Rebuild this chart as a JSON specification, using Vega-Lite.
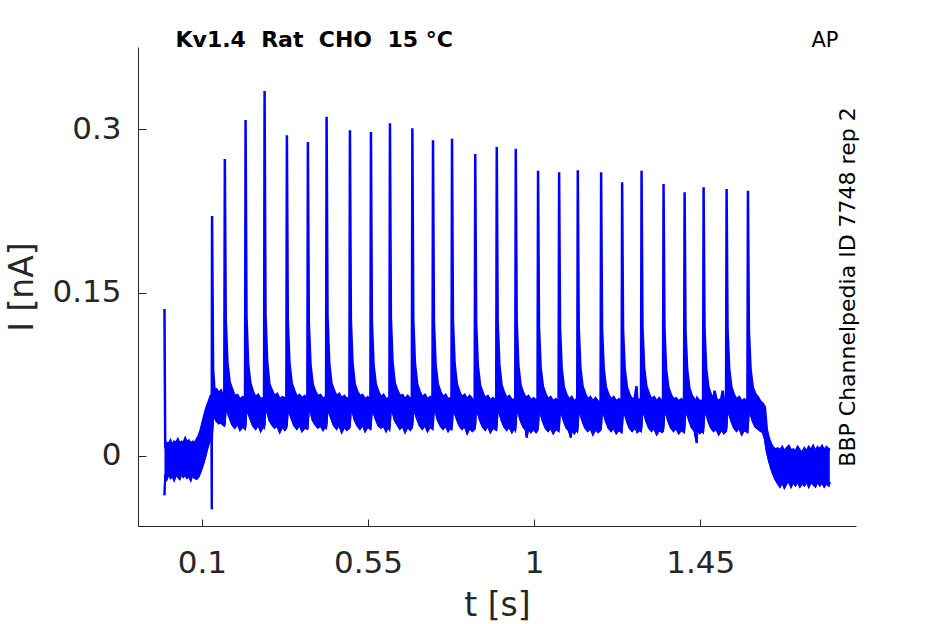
{
  "$schema": "https://vega.github.io/schema/vega-lite/v6.json",
  "width": 718,
  "height": 479,
  "autosize": {"type": "none"},
  "padding": {"left": 138, "top": 47, "right": 89, "bottom": 98},
  "background": "white",
  "config": {
    "view": {"stroke": null},
    "font": "DejaVu Sans",
    "axis": {"grid": false, "labelFont": "DejaVu Sans", "titleFont": "DejaVu Sans"}
  },
  "datasets": {
    "trace": [
      {"t": -0.0012, "lo": -0.036, "hi": 0.135},
      {"t": 0.0008, "lo": -0.017, "hi": 0.010},
      {"t": 0.0050, "lo": -0.021, "hi": 0.012},
      {"t": 0.0100, "lo": -0.016, "hi": 0.011},
      {"t": 0.0150, "lo": -0.020, "hi": 0.014},
      {"t": 0.0200, "lo": -0.018, "hi": 0.009},
      {"t": 0.0250, "lo": -0.022, "hi": 0.013},
      {"t": 0.0300, "lo": -0.017, "hi": 0.012},
      {"t": 0.0350, "lo": -0.019, "hi": 0.015},
      {"t": 0.0400, "lo": -0.021, "hi": 0.011},
      {"t": 0.0450, "lo": -0.016, "hi": 0.013},
      {"t": 0.0500, "lo": -0.019, "hi": 0.012},
      {"t": 0.0550, "lo": -0.017, "hi": 0.016},
      {"t": 0.0600, "lo": -0.020, "hi": 0.012},
      {"t": 0.0650, "lo": -0.018, "hi": 0.014},
      {"t": 0.0700, "lo": -0.022, "hi": 0.011},
      {"t": 0.0750, "lo": -0.017, "hi": 0.013},
      {"t": 0.0800, "lo": -0.020, "hi": 0.012},
      {"t": 0.0860, "lo": -0.021, "hi": 0.015},
      {"t": 0.0910, "lo": -0.019, "hi": 0.018},
      {"t": 0.0970, "lo": -0.014, "hi": 0.024},
      {"t": 0.1030, "lo": -0.008, "hi": 0.032},
      {"t": 0.1090, "lo": -0.001, "hi": 0.040},
      {"t": 0.1140, "lo": 0.006, "hi": 0.046},
      {"t": 0.1190, "lo": 0.012, "hi": 0.050},
      {"t": 0.1235, "lo": 0.018, "hi": 0.055},
      {"t": 0.1262, "lo": 0.022, "hi": 0.056},
      {"t": 0.1270, "lo": -0.049, "hi": 0.057},
      {"t": 0.1277, "lo": 0.020, "hi": 0.2204},
      {"t": 0.1305, "lo": 0.034, "hi": 0.080},
      {"t": 0.1340, "lo": 0.036, "hi": 0.062},
      {"t": 0.1400, "lo": 0.032, "hi": 0.061},
      {"t": 0.1460, "lo": 0.030, "hi": 0.058},
      {"t": 0.1520, "lo": 0.031, "hi": 0.060},
      {"t": 0.1570, "lo": 0.029, "hi": 0.055},
      {"t": 0.1608, "lo": 0.028, "hi": 0.053},
      {"t": 0.1623, "lo": 0.030, "hi": 0.2727},
      {"t": 0.1648, "lo": 0.045, "hi": 0.125},
      {"t": 0.1693, "lo": 0.041, "hi": 0.086},
      {"t": 0.1753, "lo": 0.035, "hi": 0.068},
      {"t": 0.1823, "lo": 0.029, "hi": 0.061},
      {"t": 0.1893, "lo": 0.026, "hi": 0.055},
      {"t": 0.1963, "lo": 0.030, "hi": 0.056},
      {"t": 0.2033, "lo": 0.024, "hi": 0.052},
      {"t": 0.2103, "lo": 0.027, "hi": 0.054},
      {"t": 0.2170, "lo": 0.025, "hi": 0.051},
      {"t": 0.2185, "lo": 0.029, "hi": 0.3085},
      {"t": 0.2210, "lo": 0.044, "hi": 0.128},
      {"t": 0.2255, "lo": 0.040, "hi": 0.084},
      {"t": 0.2315, "lo": 0.034, "hi": 0.067},
      {"t": 0.2385, "lo": 0.028, "hi": 0.059},
      {"t": 0.2455, "lo": 0.025, "hi": 0.054},
      {"t": 0.2525, "lo": 0.029, "hi": 0.056},
      {"t": 0.2595, "lo": 0.023, "hi": 0.052},
      {"t": 0.2655, "lo": 0.027, "hi": 0.053},
      {"t": 0.2685, "lo": 0.026, "hi": 0.051},
      {"t": 0.2700, "lo": 0.030, "hi": 0.3352},
      {"t": 0.2725, "lo": 0.045, "hi": 0.130},
      {"t": 0.2770, "lo": 0.041, "hi": 0.087},
      {"t": 0.2830, "lo": 0.033, "hi": 0.066},
      {"t": 0.2900, "lo": 0.029, "hi": 0.060},
      {"t": 0.2970, "lo": 0.026, "hi": 0.055},
      {"t": 0.3040, "lo": 0.028, "hi": 0.057},
      {"t": 0.3110, "lo": 0.022, "hi": 0.052},
      {"t": 0.3180, "lo": 0.027, "hi": 0.054},
      {"t": 0.3250, "lo": 0.024, "hi": 0.053},
      {"t": 0.3289, "lo": 0.026, "hi": 0.050},
      {"t": 0.3304, "lo": 0.029, "hi": 0.2945},
      {"t": 0.3329, "lo": 0.044, "hi": 0.124},
      {"t": 0.3374, "lo": 0.040, "hi": 0.085},
      {"t": 0.3434, "lo": 0.034, "hi": 0.067},
      {"t": 0.3504, "lo": 0.028, "hi": 0.060},
      {"t": 0.3574, "lo": 0.025, "hi": 0.054},
      {"t": 0.3644, "lo": 0.029, "hi": 0.056},
      {"t": 0.3714, "lo": 0.023, "hi": 0.053},
      {"t": 0.3784, "lo": 0.026, "hi": 0.055},
      {"t": 0.3858, "lo": 0.025, "hi": 0.051},
      {"t": 0.3873, "lo": 0.030, "hi": 0.2883},
      {"t": 0.3898, "lo": 0.045, "hi": 0.122},
      {"t": 0.3943, "lo": 0.041, "hi": 0.084},
      {"t": 0.4003, "lo": 0.033, "hi": 0.066},
      {"t": 0.4073, "lo": 0.029, "hi": 0.059},
      {"t": 0.4143, "lo": 0.026, "hi": 0.055},
      {"t": 0.4213, "lo": 0.028, "hi": 0.056},
      {"t": 0.4283, "lo": 0.024, "hi": 0.052},
      {"t": 0.4340, "lo": 0.027, "hi": 0.054},
      {"t": 0.4365, "lo": 0.026, "hi": 0.051},
      {"t": 0.4380, "lo": 0.030, "hi": 0.3116},
      {"t": 0.4405, "lo": 0.044, "hi": 0.128},
      {"t": 0.4450, "lo": 0.040, "hi": 0.086},
      {"t": 0.4510, "lo": 0.034, "hi": 0.067},
      {"t": 0.4580, "lo": 0.028, "hi": 0.060},
      {"t": 0.4650, "lo": 0.025, "hi": 0.055},
      {"t": 0.4720, "lo": 0.029, "hi": 0.057},
      {"t": 0.4790, "lo": 0.022, "hi": 0.053},
      {"t": 0.4860, "lo": 0.027, "hi": 0.055},
      {"t": 0.4930, "lo": 0.024, "hi": 0.052},
      {"t": 0.4997, "lo": 0.026, "hi": 0.054},
      {"t": 0.5012, "lo": 0.029, "hi": 0.2991},
      {"t": 0.5037, "lo": 0.045, "hi": 0.125},
      {"t": 0.5082, "lo": 0.041, "hi": 0.085},
      {"t": 0.5142, "lo": 0.033, "hi": 0.066},
      {"t": 0.5212, "lo": 0.028, "hi": 0.059},
      {"t": 0.5282, "lo": 0.025, "hi": 0.055},
      {"t": 0.5352, "lo": 0.029, "hi": 0.056},
      {"t": 0.5422, "lo": 0.023, "hi": 0.052},
      {"t": 0.5492, "lo": 0.027, "hi": 0.054},
      {"t": 0.5566, "lo": 0.025, "hi": 0.051},
      {"t": 0.5581, "lo": 0.030, "hi": 0.2975},
      {"t": 0.5606, "lo": 0.044, "hi": 0.124},
      {"t": 0.5651, "lo": 0.040, "hi": 0.084},
      {"t": 0.5711, "lo": 0.034, "hi": 0.066},
      {"t": 0.5781, "lo": 0.028, "hi": 0.059},
      {"t": 0.5851, "lo": 0.026, "hi": 0.054},
      {"t": 0.5921, "lo": 0.028, "hi": 0.056},
      {"t": 0.5991, "lo": 0.023, "hi": 0.052},
      {"t": 0.6051, "lo": 0.027, "hi": 0.053},
      {"t": 0.6081, "lo": 0.025, "hi": 0.051},
      {"t": 0.6096, "lo": 0.030, "hi": 0.3055},
      {"t": 0.6121, "lo": 0.045, "hi": 0.127},
      {"t": 0.6166, "lo": 0.041, "hi": 0.086},
      {"t": 0.6226, "lo": 0.033, "hi": 0.067},
      {"t": 0.6296, "lo": 0.029, "hi": 0.060},
      {"t": 0.6366, "lo": 0.025, "hi": 0.055},
      {"t": 0.6436, "lo": 0.028, "hi": 0.056},
      {"t": 0.6506, "lo": 0.022, "hi": 0.052},
      {"t": 0.6576, "lo": 0.027, "hi": 0.055},
      {"t": 0.6646, "lo": 0.024, "hi": 0.052},
      {"t": 0.6688, "lo": 0.026, "hi": 0.050},
      {"t": 0.6703, "lo": 0.029, "hi": 0.3009},
      {"t": 0.6728, "lo": 0.044, "hi": 0.125},
      {"t": 0.6773, "lo": 0.040, "hi": 0.085},
      {"t": 0.6833, "lo": 0.034, "hi": 0.066},
      {"t": 0.6903, "lo": 0.028, "hi": 0.059},
      {"t": 0.6973, "lo": 0.025, "hi": 0.054},
      {"t": 0.7043, "lo": 0.029, "hi": 0.056},
      {"t": 0.7113, "lo": 0.023, "hi": 0.052},
      {"t": 0.7183, "lo": 0.027, "hi": 0.054},
      {"t": 0.7247, "lo": 0.025, "hi": 0.051},
      {"t": 0.7262, "lo": 0.030, "hi": 0.2899},
      {"t": 0.7287, "lo": 0.045, "hi": 0.123},
      {"t": 0.7332, "lo": 0.041, "hi": 0.084},
      {"t": 0.7392, "lo": 0.033, "hi": 0.066},
      {"t": 0.7462, "lo": 0.028, "hi": 0.059},
      {"t": 0.7532, "lo": 0.025, "hi": 0.054},
      {"t": 0.7602, "lo": 0.028, "hi": 0.056},
      {"t": 0.7672, "lo": 0.023, "hi": 0.052},
      {"t": 0.7732, "lo": 0.026, "hi": 0.053},
      {"t": 0.7762, "lo": 0.025, "hi": 0.051},
      {"t": 0.7777, "lo": 0.029, "hi": 0.2914},
      {"t": 0.7802, "lo": 0.044, "hi": 0.124},
      {"t": 0.7847, "lo": 0.040, "hi": 0.085},
      {"t": 0.7907, "lo": 0.034, "hi": 0.066},
      {"t": 0.7977, "lo": 0.028, "hi": 0.059},
      {"t": 0.8047, "lo": 0.025, "hi": 0.054},
      {"t": 0.8117, "lo": 0.028, "hi": 0.056},
      {"t": 0.8187, "lo": 0.021, "hi": 0.052},
      {"t": 0.8257, "lo": 0.026, "hi": 0.055},
      {"t": 0.8327, "lo": 0.023, "hi": 0.052},
      {"t": 0.8391, "lo": 0.025, "hi": 0.050},
      {"t": 0.8406, "lo": 0.029, "hi": 0.2773},
      {"t": 0.8431, "lo": 0.044, "hi": 0.122},
      {"t": 0.8476, "lo": 0.040, "hi": 0.083},
      {"t": 0.8536, "lo": 0.033, "hi": 0.065},
      {"t": 0.8606, "lo": 0.027, "hi": 0.058},
      {"t": 0.8676, "lo": 0.024, "hi": 0.053},
      {"t": 0.8746, "lo": 0.028, "hi": 0.055},
      {"t": 0.8816, "lo": 0.022, "hi": 0.051},
      {"t": 0.8886, "lo": 0.026, "hi": 0.053},
      {"t": 0.8974, "lo": 0.024, "hi": 0.050},
      {"t": 0.8989, "lo": 0.029, "hi": 0.2837},
      {"t": 0.9014, "lo": 0.044, "hi": 0.123},
      {"t": 0.9059, "lo": 0.040, "hi": 0.084},
      {"t": 0.9119, "lo": 0.033, "hi": 0.065},
      {"t": 0.9189, "lo": 0.027, "hi": 0.058},
      {"t": 0.9259, "lo": 0.024, "hi": 0.053},
      {"t": 0.9329, "lo": 0.027, "hi": 0.055},
      {"t": 0.9399, "lo": 0.022, "hi": 0.051},
      {"t": 0.9459, "lo": 0.026, "hi": 0.052},
      {"t": 0.9489, "lo": 0.024, "hi": 0.050},
      {"t": 0.9504, "lo": 0.029, "hi": 0.2822},
      {"t": 0.9529, "lo": 0.044, "hi": 0.123},
      {"t": 0.9574, "lo": 0.040, "hi": 0.083},
      {"t": 0.9634, "lo": 0.033, "hi": 0.065},
      {"t": 0.9704, "lo": 0.027, "hi": 0.058},
      {"t": 0.9774, "lo": 0.024, "hi": 0.053},
      {"t": 0.9800, "lo": 0.017, "hi": 0.054},
      {"t": 0.9844, "lo": 0.026, "hi": 0.055},
      {"t": 0.9914, "lo": 0.022, "hi": 0.051},
      {"t": 0.9984, "lo": 0.025, "hi": 0.053},
      {"t": 1.0054, "lo": 0.022, "hi": 0.051},
      {"t": 1.0093, "lo": 0.024, "hi": 0.049},
      {"t": 1.0108, "lo": 0.028, "hi": 0.2620},
      {"t": 1.0133, "lo": 0.043, "hi": 0.118},
      {"t": 1.0178, "lo": 0.039, "hi": 0.081},
      {"t": 1.0238, "lo": 0.032, "hi": 0.064},
      {"t": 1.0308, "lo": 0.026, "hi": 0.057},
      {"t": 1.0378, "lo": 0.023, "hi": 0.052},
      {"t": 1.0448, "lo": 0.026, "hi": 0.054},
      {"t": 1.0518, "lo": 0.021, "hi": 0.050},
      {"t": 1.0588, "lo": 0.025, "hi": 0.052},
      {"t": 1.0663, "lo": 0.023, "hi": 0.049},
      {"t": 1.0678, "lo": 0.028, "hi": 0.2605},
      {"t": 1.0703, "lo": 0.043, "hi": 0.118},
      {"t": 1.0748, "lo": 0.039, "hi": 0.080},
      {"t": 1.0808, "lo": 0.032, "hi": 0.063},
      {"t": 1.0878, "lo": 0.026, "hi": 0.056},
      {"t": 1.0948, "lo": 0.023, "hi": 0.052},
      {"t": 1.0995, "lo": 0.017, "hi": 0.053},
      {"t": 1.1018, "lo": 0.025, "hi": 0.054},
      {"t": 1.1088, "lo": 0.021, "hi": 0.050},
      {"t": 1.1145, "lo": 0.024, "hi": 0.052},
      {"t": 1.1169, "lo": 0.023, "hi": 0.049},
      {"t": 1.1184, "lo": 0.028, "hi": 0.2623},
      {"t": 1.1209, "lo": 0.043, "hi": 0.118},
      {"t": 1.1254, "lo": 0.039, "hi": 0.081},
      {"t": 1.1314, "lo": 0.032, "hi": 0.064},
      {"t": 1.1384, "lo": 0.026, "hi": 0.057},
      {"t": 1.1454, "lo": 0.023, "hi": 0.052},
      {"t": 1.1524, "lo": 0.026, "hi": 0.054},
      {"t": 1.1594, "lo": 0.020, "hi": 0.050},
      {"t": 1.1664, "lo": 0.025, "hi": 0.053},
      {"t": 1.1734, "lo": 0.022, "hi": 0.050},
      {"t": 1.1801, "lo": 0.024, "hi": 0.049},
      {"t": 1.1816, "lo": 0.028, "hi": 0.2605},
      {"t": 1.1841, "lo": 0.043, "hi": 0.117},
      {"t": 1.1886, "lo": 0.039, "hi": 0.080},
      {"t": 1.1946, "lo": 0.032, "hi": 0.063},
      {"t": 1.2016, "lo": 0.026, "hi": 0.056},
      {"t": 1.2086, "lo": 0.023, "hi": 0.052},
      {"t": 1.2156, "lo": 0.026, "hi": 0.054},
      {"t": 1.2226, "lo": 0.021, "hi": 0.050},
      {"t": 1.2296, "lo": 0.024, "hi": 0.052},
      {"t": 1.2370, "lo": 0.022, "hi": 0.049},
      {"t": 1.2385, "lo": 0.028, "hi": 0.2513},
      {"t": 1.2410, "lo": 0.043, "hi": 0.116},
      {"t": 1.2455, "lo": 0.039, "hi": 0.080},
      {"t": 1.2515, "lo": 0.032, "hi": 0.063},
      {"t": 1.2585, "lo": 0.026, "hi": 0.056},
      {"t": 1.2655, "lo": 0.023, "hi": 0.052},
      {"t": 1.2725, "lo": 0.026, "hi": 0.053},
      {"t": 1.2775, "lo": 0.024, "hi": 0.064},
      {"t": 1.2795, "lo": 0.022, "hi": 0.051},
      {"t": 1.2865, "lo": 0.024, "hi": 0.052},
      {"t": 1.2896, "lo": 0.023, "hi": 0.049},
      {"t": 1.2911, "lo": 0.028, "hi": 0.2620},
      {"t": 1.2936, "lo": 0.043, "hi": 0.118},
      {"t": 1.2981, "lo": 0.039, "hi": 0.081},
      {"t": 1.3041, "lo": 0.032, "hi": 0.064},
      {"t": 1.3111, "lo": 0.026, "hi": 0.057},
      {"t": 1.3181, "lo": 0.023, "hi": 0.052},
      {"t": 1.3251, "lo": 0.026, "hi": 0.054},
      {"t": 1.3321, "lo": 0.020, "hi": 0.050},
      {"t": 1.3391, "lo": 0.024, "hi": 0.053},
      {"t": 1.3461, "lo": 0.022, "hi": 0.050},
      {"t": 1.3492, "lo": 0.023, "hi": 0.049},
      {"t": 1.3507, "lo": 0.028, "hi": 0.2498},
      {"t": 1.3532, "lo": 0.043, "hi": 0.116},
      {"t": 1.3577, "lo": 0.039, "hi": 0.079},
      {"t": 1.3637, "lo": 0.032, "hi": 0.063},
      {"t": 1.3707, "lo": 0.026, "hi": 0.056},
      {"t": 1.3777, "lo": 0.023, "hi": 0.052},
      {"t": 1.3847, "lo": 0.026, "hi": 0.053},
      {"t": 1.3917, "lo": 0.021, "hi": 0.050},
      {"t": 1.3987, "lo": 0.024, "hi": 0.052},
      {"t": 1.4062, "lo": 0.022, "hi": 0.049},
      {"t": 1.4077, "lo": 0.028, "hi": 0.2421},
      {"t": 1.4102, "lo": 0.043, "hi": 0.115},
      {"t": 1.4147, "lo": 0.039, "hi": 0.079},
      {"t": 1.4207, "lo": 0.032, "hi": 0.062},
      {"t": 1.4277, "lo": 0.026, "hi": 0.055},
      {"t": 1.4347, "lo": 0.023, "hi": 0.052},
      {"t": 1.4405, "lo": 0.012, "hi": 0.050},
      {"t": 1.4420, "lo": 0.024, "hi": 0.053},
      {"t": 1.4490, "lo": 0.021, "hi": 0.050},
      {"t": 1.4550, "lo": 0.023, "hi": 0.051},
      {"t": 1.4577, "lo": 0.022, "hi": 0.049},
      {"t": 1.4592, "lo": 0.028, "hi": 0.2467},
      {"t": 1.4617, "lo": 0.043, "hi": 0.116},
      {"t": 1.4662, "lo": 0.039, "hi": 0.080},
      {"t": 1.4722, "lo": 0.032, "hi": 0.063},
      {"t": 1.4792, "lo": 0.026, "hi": 0.056},
      {"t": 1.4862, "lo": 0.023, "hi": 0.052},
      {"t": 1.4890, "lo": 0.024, "hi": 0.060},
      {"t": 1.4932, "lo": 0.025, "hi": 0.053},
      {"t": 1.5002, "lo": 0.020, "hi": 0.050},
      {"t": 1.5072, "lo": 0.024, "hi": 0.053},
      {"t": 1.5110, "lo": 0.023, "hi": 0.060},
      {"t": 1.5142, "lo": 0.021, "hi": 0.050},
      {"t": 1.5200, "lo": 0.023, "hi": 0.049},
      {"t": 1.5215, "lo": 0.028, "hi": 0.2452},
      {"t": 1.5240, "lo": 0.043, "hi": 0.116},
      {"t": 1.5285, "lo": 0.039, "hi": 0.080},
      {"t": 1.5345, "lo": 0.032, "hi": 0.063},
      {"t": 1.5415, "lo": 0.026, "hi": 0.056},
      {"t": 1.5485, "lo": 0.023, "hi": 0.052},
      {"t": 1.5555, "lo": 0.026, "hi": 0.054},
      {"t": 1.5625, "lo": 0.020, "hi": 0.050},
      {"t": 1.5695, "lo": 0.024, "hi": 0.052},
      {"t": 1.5778, "lo": 0.022, "hi": 0.049},
      {"t": 1.5793, "lo": 0.028, "hi": 0.2436},
      {"t": 1.5818, "lo": 0.043, "hi": 0.116},
      {"t": 1.5863, "lo": 0.039, "hi": 0.080},
      {"t": 1.5923, "lo": 0.032, "hi": 0.063},
      {"t": 1.5993, "lo": 0.027, "hi": 0.057},
      {"t": 1.6063, "lo": 0.025, "hi": 0.054},
      {"t": 1.6133, "lo": 0.023, "hi": 0.050},
      {"t": 1.6196, "lo": 0.022, "hi": 0.048},
      {"t": 1.6250, "lo": 0.016, "hi": 0.045},
      {"t": 1.6304, "lo": 0.004, "hi": 0.024},
      {"t": 1.6360, "lo": -0.004, "hi": 0.016},
      {"t": 1.6420, "lo": -0.011, "hi": 0.011},
      {"t": 1.6470, "lo": -0.016, "hi": 0.008},
      {"t": 1.6530, "lo": -0.021, "hi": 0.006},
      {"t": 1.6600, "lo": -0.025, "hi": 0.007},
      {"t": 1.6660, "lo": -0.028, "hi": 0.005},
      {"t": 1.6720, "lo": -0.024, "hi": 0.008},
      {"t": 1.6780, "lo": -0.029, "hi": 0.004},
      {"t": 1.6840, "lo": -0.025, "hi": 0.007},
      {"t": 1.6900, "lo": -0.023, "hi": 0.009},
      {"t": 1.6960, "lo": -0.028, "hi": 0.005},
      {"t": 1.7020, "lo": -0.024, "hi": 0.006},
      {"t": 1.7080, "lo": -0.027, "hi": 0.004},
      {"t": 1.7140, "lo": -0.023, "hi": 0.008},
      {"t": 1.7200, "lo": -0.028, "hi": 0.005},
      {"t": 1.7260, "lo": -0.025, "hi": 0.003},
      {"t": 1.7320, "lo": -0.027, "hi": 0.007},
      {"t": 1.7380, "lo": -0.023, "hi": 0.004},
      {"t": 1.7440, "lo": -0.028, "hi": 0.008},
      {"t": 1.7500, "lo": -0.024, "hi": 0.005},
      {"t": 1.7560, "lo": -0.026, "hi": 0.009},
      {"t": 1.7620, "lo": -0.028, "hi": 0.004},
      {"t": 1.7680, "lo": -0.023, "hi": 0.008},
      {"t": 1.7740, "lo": -0.027, "hi": 0.006},
      {"t": 1.7800, "lo": -0.024, "hi": 0.009},
      {"t": 1.7860, "lo": -0.028, "hi": 0.005},
      {"t": 1.7920, "lo": -0.025, "hi": 0.008},
      {"t": 1.7980, "lo": -0.027, "hi": 0.006},
      {"t": 1.8010, "lo": -0.024, "hi": 0.007}
    ]
  },
  "data": {"name": "trace"},
  "resolve": {"axis": {"x": "independent", "y": "independent"}},
  "layer": [
    {
      "mark": {"type": "area", "color": "#0000ff", "opacity": 1, "interpolate": "linear"},
      "encoding": {
        "x": {
          "field": "t",
          "type": "quantitative",
          "scale": {"domain": [-0.0729, 1.872], "nice": false, "zero": false},
          "axis": {
            "orient": "bottom",
            "values": [0.1, 0.55, 1, 1.45],
            "labelExpr": "datum.value + ''",
            "domainColor": "#262626",
            "domainWidth": 1,
            "ticks": false,
            "labelFontSize": 31,
            "labelColor": "#262626",
            "labelBaseline": "alphabetic",
            "labelPadding": 46,
            "labelFlush": false,
            "title": "t [s]",
            "titleFontSize": 33,
            "titleFontWeight": "normal",
            "titleColor": "#262626",
            "titleX": 359,
            "titleY": 89,
            "titleAlign": "center",
            "titleBaseline": "alphabetic"
          }
        },
        "y": {
          "field": "hi",
          "type": "quantitative",
          "scale": {"domain": [-0.0643, 0.3756], "nice": false, "zero": false},
          "axis": {
            "orient": "left",
            "values": [0, 0.15, 0.3],
            "labelExpr": "datum.value + ''",
            "domainColor": "#262626",
            "domainWidth": 1,
            "ticks": false,
            "labelFontSize": 31,
            "labelColor": "#262626",
            "labelPadding": 17,
            "labelFlush": false,
            "title": "I [nA]",
            "titleFontSize": 33,
            "titleFontWeight": "normal",
            "titleColor": "#262626",
            "titleAngle": 270,
            "titleX": -106,
            "titleY": 239.5,
            "titleAlign": "center",
            "titleBaseline": "alphabetic"
          }
        },
        "y2": {"field": "lo"}
      }
    },
    {
      "mark": {"type": "line", "color": "#0000ff", "strokeWidth": 2.5, "interpolate": "linear"},
      "encoding": {
        "x": {
          "field": "t",
          "type": "quantitative",
          "scale": {"domain": [-0.0729, 1.872], "nice": false, "zero": false},
          "axis": {
            "orient": "top",
            "labels": false,
            "ticks": false,
            "domain": false,
            "title": "Kv1.4\u00a0 Rat\u00a0 CHO\u00a0 15 °C",
            "titleFontSize": 22,
            "titleFontWeight": "bold",
            "titleColor": "#000000",
            "titleX": 37,
            "titleY": -1,
            "titleAlign": "left",
            "titleBaseline": "alphabetic"
          }
        },
        "y": {
          "field": "hi",
          "type": "quantitative",
          "scale": {"domain": [-0.0643, 0.3756], "nice": false, "zero": false},
          "axis": {
            "orient": "right",
            "labels": false,
            "ticks": false,
            "domain": false,
            "title": "BBP Channelpedia ID 7748 rep 2",
            "titleFontSize": 22,
            "titleFontWeight": "normal",
            "titleColor": "#000000",
            "titleAngle": 270,
            "titleX": -2,
            "titleY": 239.5,
            "titleAlign": "center",
            "titleBaseline": "alphabetic"
          }
        }
      }
    },
    {
      "mark": {"type": "line", "color": "#0000ff", "strokeWidth": 2, "interpolate": "linear"},
      "encoding": {
        "x": {
          "field": "t",
          "type": "quantitative",
          "scale": {"domain": [-0.0729, 1.872], "nice": false, "zero": false},
          "axis": {
            "orient": "top",
            "labels": false,
            "ticks": false,
            "domain": false,
            "title": "AP",
            "titleFontSize": 21,
            "titleFontWeight": "normal",
            "titleColor": "#000000",
            "titleX": 700,
            "titleY": -1,
            "titleAlign": "right",
            "titleBaseline": "alphabetic"
          }
        },
        "y": {
          "field": "lo",
          "type": "quantitative",
          "scale": {"domain": [-0.0643, 0.3756], "nice": false, "zero": false},
          "axis": null
        }
      }
    },
    {
      "mark": {"type": "line", "color": "#0000ff", "strokeWidth": 2, "interpolate": "linear"},
      "encoding": {
        "x": {
          "field": "t",
          "type": "quantitative",
          "scale": {"domain": [-0.0729, 1.872], "nice": false, "zero": false},
          "axis": {
            "orient": "bottom",
            "offset": -7,
            "values": [0.1, 0.55, 1, 1.45],
            "labels": false,
            "domain": false,
            "ticks": true,
            "tickSize": 7,
            "tickWidth": 1,
            "tickColor": "#262626",
            "title": null
          }
        },
        "y": {
          "field": "lo",
          "type": "quantitative",
          "scale": {"domain": [-0.0643, 0.3756], "nice": false, "zero": false},
          "axis": {
            "orient": "left",
            "offset": -8,
            "values": [0, 0.15, 0.3],
            "labels": false,
            "domain": false,
            "ticks": true,
            "tickSize": 8,
            "tickWidth": 1,
            "tickColor": "#262626",
            "title": null
          }
        }
      }
    }
  ]
}
